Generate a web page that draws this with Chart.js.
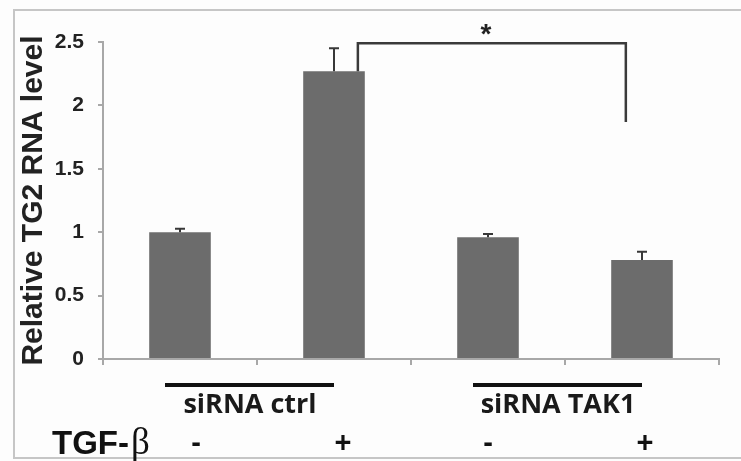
<!DOCTYPE html>
<html>
<head>
<meta charset="utf-8">
<script src="https://cdn.jsdelivr.net/npm/chart.js@4/dist/chart.umd.min.js"></script>
<style>
  body { margin: 0; background: #fdfdfd; }
  #wrap { width: 741px; height: 461px; }
</style>
</head>
<body>
<div id="wrap"><canvas id="canvas"></canvas></div>
<script>
// data
var tgfLabels = ['-', '+', '-', '+']
var groups = ['siRNA ctrl', 'siRNA TAK1']
var values = [1.0, 2.27, 0.96, 0.78]
var errors = [0.027, 0.18, 0.025, 0.065]
var yTicks = [0, 0.5, 1, 1.5, 2, 2.5]
// significance bracket: between bar 1 and bar 3, top at 2.49, right leg ends at 1.87
var bracket = { from: 1, to: 3, top: 2.49, end: 1.87, mark: '*' }

var sans = '"Liberation Sans", Arial, sans-serif'

var extras = {
  id: 'extras',
  beforeDraw: function(chart) {
    var ctx = chart.ctx
    ctx.save()
    ctx.fillStyle = '#fdfdfd'
    ctx.fillRect(0, 0, chart.width, chart.height)
    // figure frame
    ctx.strokeStyle = '#c6c6c6'
    ctx.lineWidth = 2
    ctx.beginPath()
    ctx.moveTo(chart.width, 10)
    ctx.lineTo(14, 10)
    ctx.lineTo(14, 458)
    ctx.lineTo(chart.width, 458)
    ctx.stroke()
    ctx.restore()
  },
  afterDatasetsDraw: function(chart) {
    var ctx = chart.ctx
    var x = chart.scales.x, y = chart.scales.y
    var catW = x.getPixelForValue(1) - x.getPixelForValue(0)
    ctx.save()

    // error bars (upper only)
    ctx.strokeStyle = '#383838'
    ctx.lineWidth = 2
    values.forEach(function(v, i) {
      var cx = x.getPixelForValue(i)
      var y0 = y.getPixelForValue(v)
      var y1 = y.getPixelForValue(v + errors[i])
      ctx.beginPath()
      ctx.moveTo(cx, y0)
      ctx.lineTo(cx, y1)
      ctx.moveTo(cx - 5, y1)
      ctx.lineTo(cx + 5, y1)
      ctx.stroke()
    })

    // bracket
    var bx0 = x.getPixelForValue(bracket.from) + catW * 0.155
    var bx1 = x.getPixelForValue(bracket.to) - catW * 0.105
    var by = y.getPixelForValue(bracket.top)
    ctx.strokeStyle = '#3a3a3a'
    ctx.lineWidth = 2.5
    ctx.beginPath()
    ctx.moveTo(bx0, y.getPixelForValue(values[bracket.from]))
    ctx.lineTo(bx0, by)
    ctx.lineTo(bx1, by)
    ctx.lineTo(bx1, y.getPixelForValue(bracket.end))
    ctx.stroke()
    ctx.fillStyle = '#222'
    ctx.font = 'bold 28px ' + sans
    ctx.textAlign = 'center'
    ctx.textBaseline = 'middle'
    ctx.fillText(bracket.mark, (bx0 + bx1) / 2 - 6, by - 8)

    // group bars and names
    groups.forEach(function(g, k) {
      var a = x.getPixelForValue(k * 2)
      var b = x.getPixelForValue(k * 2 + 1)
      ctx.fillStyle = '#111'
      ctx.fillRect(a - 15, 383, b - a + 15, 4)
      ctx.font = 'bold 27px "Open Sans", sans-serif'
      ctx.textAlign = 'center'
      ctx.textBaseline = 'alphabetic'
      ctx.fillStyle = '#1a1a1a'
      ctx.fillText(g, (a + b) / 2 - 7, 413)
    })

    // TGF-beta row
    ctx.textAlign = 'left'
    ctx.textBaseline = 'alphabetic'
    ctx.fillStyle = '#111'
    ctx.font = 'bold 33px ' + sans
    ctx.fillText('TGF-', 52, 454)
    var w = ctx.measureText('TGF-').width
    ctx.font = '37px "Liberation Serif", serif'
    ctx.fillText('\u03B2', 54 + w, 454)
    ctx.font = 'bold 29px ' + sans
    ctx.textAlign = 'center'
    ctx.textBaseline = 'middle'
    var shift = [16, 9, 0, 3]
    tgfLabels.forEach(function(s, i) {
      ctx.fillText(s, x.getPixelForValue(i) + shift[i], 444)
    })
    ctx.restore()
  }
}

var myChart = document.getElementById('canvas').getContext('2d')

var tg2Chart = new Chart(myChart, {
  type: 'bar',
  data: {
    labels: tgfLabels,
    datasets: [{
      label: 'Relative TG2 RNA level',
      data: values,
      backgroundColor: '#6c6c6c',
      barPercentage: 0.4,
      categoryPercentage: 1.0
    }]
  },
  options: {
    responsive: true,
    maintainAspectRatio: false,
    animation: false,
    layout: { padding: { left: 14, top: 42, right: 22, bottom: 0 } },
    plugins: { legend: { display: false }, tooltip: { enabled: false } },
    scales: {
      x: {
        afterFit: function(s) { s.height = 102 },
        ticks: { display: false },
        grid: { offset: true, drawOnChartArea: false, drawTicks: true, tickLength: 6, color: '#a8a8a8', lineWidth: 2 },
        border: { display: true, color: '#a8a8a8', width: 2 }
      },
      y: {
        min: 0,
        max: 2.5,
        afterFit: function(s) { s.width = 89 },
        afterBuildTicks: function(s) { s.ticks = yTicks.map(function(v) { return { value: v } }) },
        ticks: {
          padding: 14,
          color: '#222',
          font: { family: sans, size: 21, weight: 'bold' },
          callback: function(v) { return String(v) }
        },
        grid: { drawOnChartArea: false, drawTicks: true, tickLength: 5, color: '#a8a8a8', lineWidth: 2 },
        border: { display: true, color: '#a8a8a8', width: 2 },
        title: {
          display: true,
          text: 'Relative TG2 RNA level',
          color: '#222',
          font: { family: sans, size: 30, weight: 'bold' },
          padding: { top: 2, bottom: 0 }
        }
      }
    }
  },
  plugins: [extras]
})
</script>
</body>
</html>
